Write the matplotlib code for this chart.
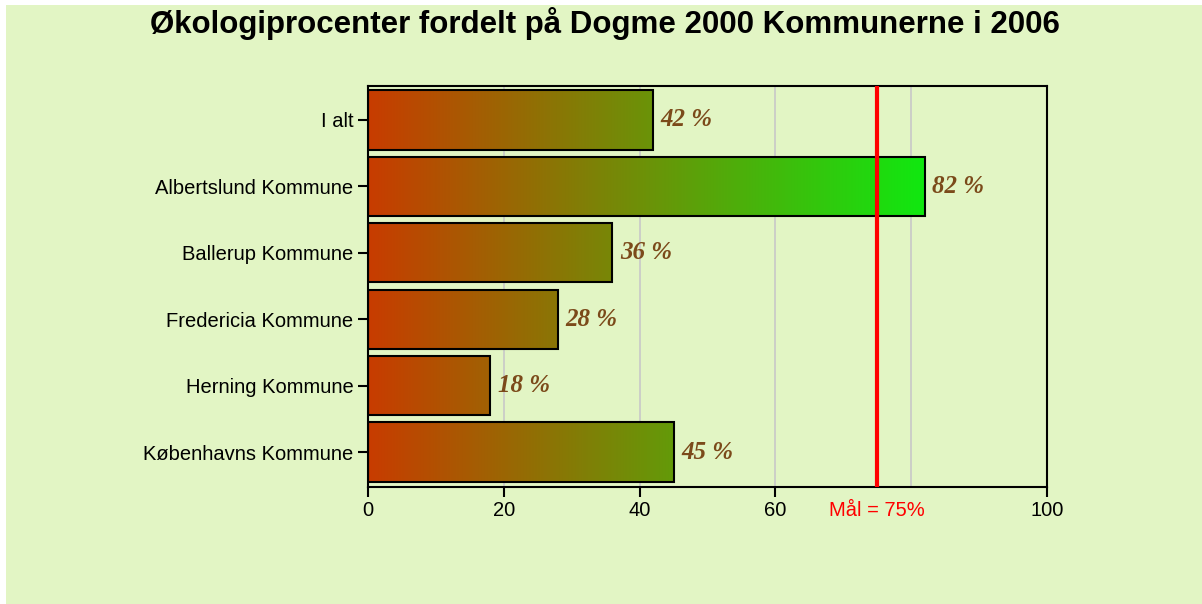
import matplotlib.pyplot as plt
import matplotlib.patches as mpatches
import matplotlib.transforms as mtransforms
from matplotlib.colors import LinearSegmentedColormap
import numpy as np

# data
kommuner = ["I alt", "Albertslund Kommune", "Ballerup Kommune",
            "Fredericia Kommune", "Herning Kommune", "Københavns Kommune"]
procent = [42, 82, 36, 28, 18, 45]
maal = 75
title = "Økologiprocenter fordelt på Dogme 2000 Kommunerne i 2006"

bg = "#e2f5c4"
fig = plt.figure(figsize=(12.02, 6.04), dpi=100, facecolor="white")
# light green panel with thin white border at top/left
fig.patches.append(mpatches.Rectangle((6 / 1202, 0), 1, 1 - 5 / 604,
                                      transform=fig.transFigure,
                                      facecolor=bg, edgecolor="none", zorder=-10))

ax = fig.add_axes([368 / 1202, 1 - 487 / 604, (1047 - 368) / 1202, (487 - 86) / 604])
ax.set_facecolor(bg)

cmap = LinearSegmentedColormap.from_list("rg", ["#c83c00", "#10e810"])
vmax = max(procent)
grad = np.linspace(0, 1, 256).reshape(1, -1)

y = np.arange(len(kommuner))
h = 0.89
for yi, v in zip(y, procent):
    im = ax.imshow(grad, cmap=cmap, aspect="auto", vmin=0, vmax=1,
                   extent=[0, vmax, yi + h / 2, yi - h / 2], zorder=2)
    rect = mpatches.Rectangle((0, yi - h / 2), v, h, facecolor="none",
                              edgecolor="black", linewidth=1.5, zorder=3)
    ax.add_patch(rect)
    im.set_clip_path(rect)
    ax.text(v + 1.1, yi, f"{v} %", va="center", ha="left", fontsize=18,
            family="Liberation Serif", fontweight="bold", style="italic",
            color="#7b4a1a", zorder=4)

ax.axvline(maal, color="#ff0000", linewidth=3, zorder=5)

ax.set_xlim(0, 100)
ax.set_ylim(len(kommuner) - 1 + 0.527, -0.512)
ax.set_xticks([0, 20, 40, 60, 100])
ax.set_xticks([80], minor=True)
ax.grid(axis="x", which="both", color="#c8c8c8", linewidth=1.2, zorder=0)
ax.set_axisbelow(True)
ax.set_yticks(y)
ax.set_yticklabels(kommuner)
ax.tick_params(axis="both", labelsize=14.5, length=7, width=1.5, colors="black")
ax.tick_params(axis="x", pad=3)
ax.tick_params(axis="x", which="minor", length=0)
for lbl in ax.get_xticklabels() + ax.get_yticklabels():
    lbl.set_family("Liberation Sans")
for s in ax.spines.values():
    s.set_linewidth(1.5)

# goal label sits on the tick label row
trans = mtransforms.blended_transform_factory(ax.transData, fig.transFigure)
ax.text(maal, 1 - 511 / 604, f"Mål = {maal}%", transform=trans,
        ha="center", va="center", color="#ff0000", fontsize=14.5,
        family="Liberation Sans")

fig.text(0.5035, 1 - 24 / 604, title, ha="center", va="center", fontsize=22.5,
         fontweight="bold", family="Liberation Sans")

fig.savefig("out.png", dpi=100, facecolor=fig.get_facecolor())
